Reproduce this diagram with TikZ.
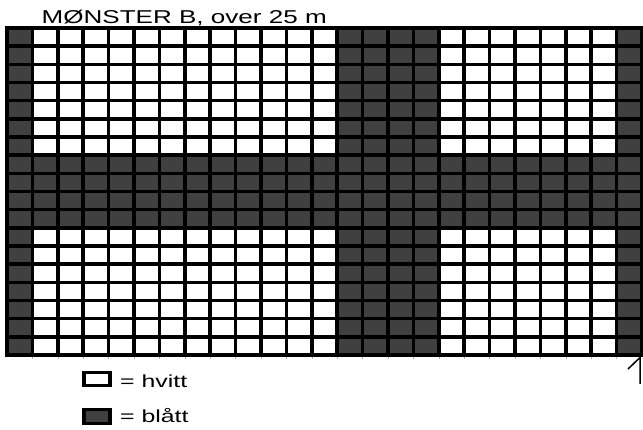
\documentclass[tikz,border=0pt]{standalone}
\usepackage{fontspec}
\setmainfont{Liberation Sans}
\begin{document}
\begin{tikzpicture}[x=1pt,y=-1pt,
  gridline/.style={line width=3.6pt,black,line cap=rect},
  darkcell/.style={fill=darkfill},
  legbox/.style={draw=black,line width=3.2pt,minimum width=26pt,minimum height=13pt,inner sep=0pt},
  stretchtext/.style={inner sep=0pt,anchor=base west},
  tick/.style={gray!60,line width=0.6pt}]
\definecolor{darkfill}{HTML}{404040}
\useasboundingbox (0,0) rectangle (643,430);
\fill[white] (0,0) rectangle (643,430);
\def\gx{7}\def\gy{28}\def\cw{25.4}\def\rh{18.1667}
% dark fills
\fill[darkfill] (\gx,\gy) rectangle ({\gx+\cw},{\gy+18*\rh});
\fill[darkfill] ({\gx+13*\cw},\gy) rectangle ({\gx+17*\cw},{\gy+18*\rh});
\fill[darkfill] ({\gx+24*\cw},\gy) rectangle ({\gx+25*\cw},{\gy+18*\rh});
\fill[darkfill] (\gx,{\gy+7*\rh}) rectangle ({\gx+25*\cw},{\gy+11*\rh});
% faint top edge
\draw[gray!70,line width=0.8pt] (\gx,{\gy-1.5}) -- ({\gx+25*\cw},{\gy-1.5});
% grid lines
\foreach \i in {0,...,25}
  \draw[gridline] ({\gx+\i*\cw},\gy) -- ({\gx+\i*\cw},{\gy+18*\rh});
\foreach \j in {0,...,18}
  \draw[gridline] (\gx,{\gy+\j*\rh}) -- ({\gx+25*\cw},{\gy+\j*\rh});
% small ticks below grid
\foreach \i in {1,...,24}
  \draw[tick] ({\gx+\i*\cw},{\gy+18*\rh+2}) -- ({\gx+\i*\cw},{\gy+18*\rh+4});
% title
\node[stretchtext,font=\fontsize{18.6}{20}\selectfont] (title) at (41.5,23.3)
  {\scalebox{1.4}[1]{MØNSTER B, over 25 m}};
% legend
\node[legbox,fill=white] (lw) at (97,379.2) {};
\node[legbox,fill=darkfill,minimum height=14pt] (ld) at (97,416.5) {};
\node[stretchtext,font=\fontsize{17.5}{19}\selectfont] (tw) at (120,388)
  {\scalebox{1.42}[1]{= hvitt}};
\node[stretchtext,font=\fontsize{17.5}{19}\selectfont] (tb) at (120,423)
  {\scalebox{1.42}[1]{= blått}};
% arrow
\coordinate (atail) at (640,384);
\coordinate (ahead) at (640,357.5);
\coordinate (abarb) at (628,369);
\draw[line width=1.5pt] (atail) -- (ahead) -- (abarb);
\end{tikzpicture}
\end{document}
